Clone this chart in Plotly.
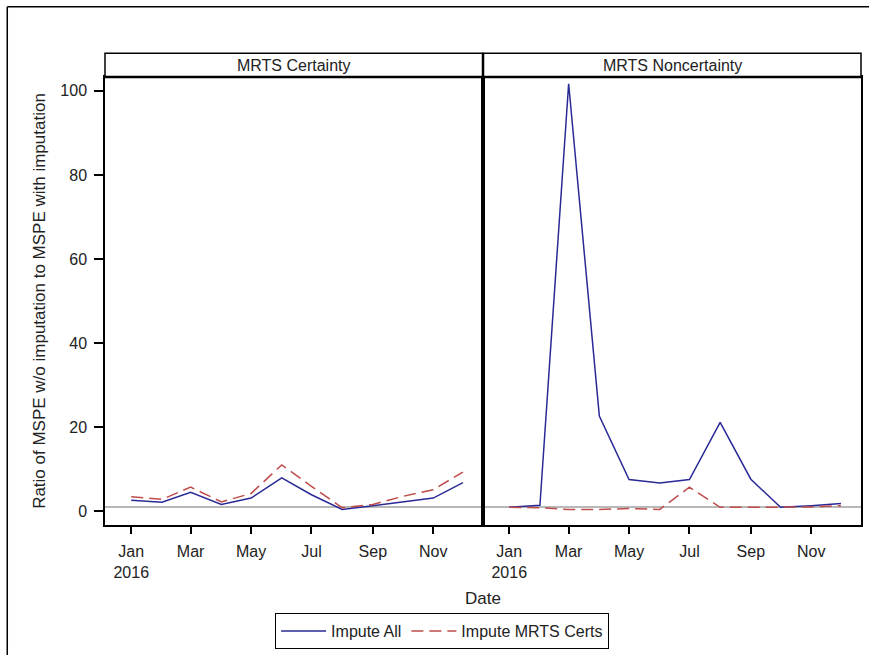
import plotly.graph_objects as go
from plotly.subplots import make_subplots

months = ["2016-01-01", "2016-02-01", "2016-03-01", "2016-04-01", "2016-05-01", "2016-06-01",
          "2016-07-01", "2016-08-01", "2016-09-01", "2016-10-01", "2016-11-01", "2016-12-01"]

panels = ["MRTS Certainty", "MRTS Noncertainty"]

cert_impute_all = [2.6, 2.1, 4.5, 1.6, 3.1, 7.9, 3.9, 0.4, 1.3, 2.2, 3.1, 6.8]
cert_impute_certs = [3.4, 2.8, 5.7, 2.2, 4.2, 11.0, 5.9, 0.8, 1.6, 3.5, 5.1, 9.3]

noncert_impute_all = [0.9, 1.4, 101.7, 22.6, 7.5, 6.7, 7.5, 21.1, 7.6, 0.9, 1.3, 1.8]
noncert_impute_certs = [0.9, 0.8, 0.4, 0.4, 0.6, 0.4, 5.7, 0.9, 0.9, 0.9, 1.0, 1.3]

tick_vals = ["2016-01-01", "2016-03-01", "2016-05-01", "2016-07-01", "2016-09-01", "2016-11-01"]
tick_text = ["Jan<br>2016", "Mar", "May", "Jul", "Sep", "Nov"]
y_ticks = [0, 20, 40, 60, 80, 100]

series_names = ["Impute All", "Impute MRTS Certs"]

BLUE = "#2A2A96"
RED = "#BF4B4B"
FONT = "Arial, Liberation Sans, sans-serif"

W, H = 869, 655
ML, MR, MT, MB = 105, 6, 77, 126
PW = W - ML - MR
PH = H - MT - MB

fig = make_subplots(rows=1, cols=2, shared_yaxes=True, horizontal_spacing=0)

data = [(cert_impute_all, cert_impute_certs), (noncert_impute_all, noncert_impute_certs)]
for i, (a, c) in enumerate(data):
    col = i + 1
    fig.add_trace(go.Scatter(x=months, y=a, mode="lines", name=series_names[0],
                             line=dict(color=BLUE, width=1.5), showlegend=(i == 0)),
                  row=1, col=col)
    fig.add_trace(go.Scatter(x=months, y=c, mode="lines", name=series_names[1],
                             line=dict(color=RED, width=1.5, dash="12px,6px"), showlegend=(i == 0)),
                  row=1, col=col)
    fig.add_hline(y=1, line=dict(color="#B8B8B8", width=2), layer="below", row=1, col=col)

x_range = ["2015-12-05 12:00", "2016-12-21 06:00"]
for col in (1, 2):
    fig.update_xaxes(range=x_range, tickvals=tick_vals, ticktext=tick_text,
                     ticks="outside", ticklen=7, tickwidth=1.5, tickcolor="black",
                     ticklabelstandoff=4,
                     showline=True, linecolor="black", linewidth=1.5, mirror=True,
                     showgrid=False, zeroline=False,
                     tickfont=dict(family=FONT, size=16, color="#222"), row=1, col=col)
fig.update_yaxes(range=[-3.3, 103.3], tickvals=y_ticks, ticks="outside", ticklen=9,
                 tickwidth=1.5, tickcolor="black", showline=True, linecolor="black",
                 ticklabelstandoff=4,
                 linewidth=1.5, mirror=True, showgrid=False, zeroline=False,
                 tickfont=dict(family=FONT, size=16, color="#222"),
                 title=dict(text="Ratio of MSPE w/o imputation to MSPE with imputation",
                            font=dict(family=FONT, size=17, color="#222"), standoff=10),
                 row=1, col=1)
fig.update_yaxes(range=[-3.3, 103.3], showticklabels=False, ticks="", showline=True,
                 linecolor="black", linewidth=1.5, mirror=True, showgrid=False,
                 zeroline=False, row=1, col=2)

# strip headers
strip_h = 24 / PH
for i, name in enumerate(panels):
    x0, x1 = i * 0.5, (i + 1) * 0.5
    fig.add_shape(type="rect", xref="paper", yref="paper", x0=x0, x1=x1, y0=1, y1=1 + strip_h,
                  line=dict(color="black", width=1.5), fillcolor="white")
    fig.add_annotation(xref="paper", yref="paper", x=(x0 + x1) / 2, y=1 + strip_h / 2,
                       text=name, showarrow=False, xanchor="center", yanchor="middle",
                       font=dict(family=FONT, size=16, color="#222"))
# thicker strip bottom line and panel divider
fig.add_shape(type="line", xref="paper", yref="paper", x0=0, x1=1, y0=1, y1=1,
              line=dict(color="black", width=2.5))
fig.add_shape(type="line", xref="paper", yref="paper", x0=0.5, x1=0.5, y0=0, y1=1 + strip_h,
              line=dict(color="black", width=2.5))

# outer frame (left and top edges visible)
fx = (7 - ML) / PW
fy = (MT + PH - 6) / PH
fig.add_shape(type="line", xref="paper", yref="paper", x0=fx, x1=fx, y0=fy, y1=-MB / PH - 0.1,
              line=dict(color="black", width=1.5))
fig.add_shape(type="line", xref="paper", yref="paper", x0=fx, x1=1.1, y0=fy, y1=fy,
              line=dict(color="black", width=1.5))

fig.add_annotation(xref="paper", yref="paper", x=0.5, y=(MT + PH - 603) / PH,
                   text="Date", showarrow=False, xanchor="center", yanchor="middle",
                   font=dict(family=FONT, size=17, color="#222"))

fig.update_layout(
    width=W, height=H,
    margin=dict(l=ML, r=MR, t=MT, b=MB),
    paper_bgcolor="white", plot_bgcolor="white",
    font=dict(family=FONT, size=16, color="#222"),
    legend=dict(orientation="h", x=(443 - ML) / PW, xanchor="center",
                y=(MT + PH - 618) / PH, yanchor="top",
                bordercolor="black", borderwidth=1, bgcolor="white",
                font=dict(family=FONT, size=16, color="#222"),
                tracegroupgap=0, itemwidth=45),
)

fig.write_html("out.html", config={"displayModeBar": False},
               post_script="document.body.style.margin='0';document.body.style.overflow='hidden';")
